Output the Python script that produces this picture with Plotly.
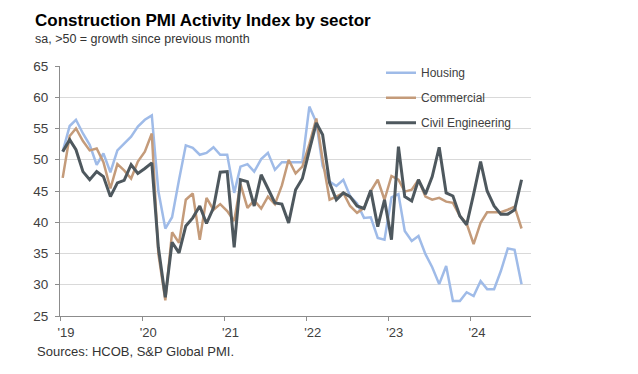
import plotly.graph_objects as go
import pandas as pd

# Monthly data, Jan 2019 - Aug 2024
months = pd.date_range("2019-01-01", periods=68, freq="MS") + pd.Timedelta(days=12)

housing = [
    51.3, 55.4, 56.4, 54.2, 52.4, 49.2, 51.0, 48.0, 51.5, 52.6, 53.7, 55.3,
    56.4, 57.1, 45.0, 39.0, 40.8, 46.8, 52.3, 51.9, 50.8, 51.1, 52.0, 50.8,
    50.8, 44.7, 48.9, 49.3, 48.1, 50.1, 51.1, 48.4, 49.6, 49.6, 49.6, 49.6,
    58.5, 56.0, 49.0, 46.5, 45.8, 46.8, 44.2, 43.0, 40.7, 40.8, 37.5, 37.2,
    44.0, 44.5, 38.6, 37.0, 37.8, 34.9, 32.8, 30.1, 33.0, 27.4, 27.4, 28.8,
    28.2, 30.6, 29.3, 29.3, 32.2, 35.8, 35.6, 30.1,
]
commercial = [
    47.1, 53.8, 55.0, 53.0, 51.5, 51.8, 49.6, 45.4, 49.3, 48.3, 47.0, 49.7,
    51.3, 54.2, 35.0, 27.5, 38.4, 36.7, 43.6, 44.6, 37.2, 43.9, 42.0, 42.9,
    41.8, 40.2, 46.1, 42.3, 43.5, 42.2, 44.1, 42.9, 45.9, 50.0, 47.8, 48.9,
    52.5, 56.6, 50.0, 43.6, 44.1, 44.7, 42.6, 41.5, 42.3, 45.0, 46.8, 43.6,
    47.4, 46.8, 44.9, 45.2, 46.8, 44.1, 43.6, 43.9, 43.3, 43.1, 41.0, 39.8,
    36.5, 39.9, 41.6, 41.6, 41.6, 42.0, 42.5, 39.0,
]
civil = [
    51.3, 53.2, 51.6, 48.1, 46.8, 48.1, 47.3, 44.1, 46.3, 46.7, 49.2, 47.8,
    48.6, 49.5, 36.0, 28.0, 36.8, 35.1, 39.4, 40.7, 42.6, 39.8, 42.3, 48.0,
    48.1, 36.0, 46.8, 46.5, 42.6, 47.6, 45.4, 43.1, 42.9, 39.9, 45.2, 47.0,
    51.5, 55.9, 54.0, 46.3, 43.6, 44.7, 44.1, 42.6, 42.2, 45.1, 39.3, 43.6,
    37.2, 52.1, 44.1, 43.4, 46.8, 44.5, 47.3, 52.0, 44.7, 44.2, 41.0, 39.6,
    44.5, 49.7, 45.0, 42.6, 41.3, 41.3, 42.0, 46.8,
]

year_ticks = ["2019-01-01", "2020-01-01", "2021-01-01", "2022-01-01", "2023-01-01", "2024-01-01"]
year_labels = ["'19", "'20", "'21", "'22", "'23", "'24"]

FONT = "Liberation Sans, Arial, sans-serif"
series = [
    ("Housing", housing, "#9fbbe8", 2.5),
    ("Commercial", commercial, "#c49b7a", 2.5),
    ("Civil Engineering", civil, "#4e585e", 3),
]

# page body adds an 8px offset; margins compensate so the plot sits at x 60-531, y 66-316
OFF = 8
L, T, PW, PH = 60 - OFF, 66 - OFF, 471, 250

fig = go.Figure()
for name, vals, color, w in series:
    fig.add_trace(go.Scatter(
        x=months, y=vals, mode="lines", name=name, legendgroup=name,
        line=dict(color=color, width=w),
    ))

fig.update_layout(
    width=638, height=374,
    margin=dict(l=L, r=638 - L - PW, t=T, b=374 - T - PH),
    paper_bgcolor="white", plot_bgcolor="white",
    font=dict(family=FONT, size=12, color="#404040"),
    showlegend=True,
    legend=dict(
        x=(381 - 60) / PW, y=1.031, xanchor="left", yanchor="top",
        bgcolor="rgba(0,0,0,0)", font=dict(size=12, color="#404040"),
        traceorder="grouped", tracegroupgap=6,
    ),
    xaxis=dict(
        range=["2019-01-01", "2024-09-24"],
        tickvals=year_ticks, ticktext=year_labels,
        showgrid=False, showline=True, linecolor="#8c8c8c", linewidth=1,
        ticks="outside", ticklen=4, tickcolor="#8c8c8c",
        tickfont=dict(size=13, color="#404040"), ticklabelshift=6,
        zeroline=False,
    ),
    yaxis=dict(
        range=[25, 65], dtick=5, tick0=25,
        showgrid=True, gridcolor="#d9d9d9", gridwidth=1,
        showline=True, linecolor="#8c8c8c", linewidth=1,
        ticks="outside", ticklen=4, tickcolor="#8c8c8c",
        tickfont=dict(size=13.5, color="#404040"), ticklabelstandoff=4,
        zeroline=False,
    ),
    annotations=[
        dict(text="<b>Construction PMI Activity Index by sector</b>", xref="paper", yref="paper",
             x=(33 - 60) / PW, y=1 + (66 - 20.5) / PH, xanchor="left", yanchor="middle",
             showarrow=False, font=dict(size=17, color="#000000", family=FONT)),
        dict(text="sa, >50 = growth since previous month", xref="paper", yref="paper",
             x=(33 - 60) / PW, y=1 + (66 - 39.5) / PH, xanchor="left", yanchor="middle",
             showarrow=False, font=dict(size=12.5, color="#333333", family=FONT)),
        dict(text="Sources: HCOB, S&P Global PMI.", xref="paper", yref="paper",
             x=(35 - 60) / PW, y=(316 - 351) / PH, xanchor="left", yanchor="middle",
             showarrow=False, font=dict(size=13, color="#333333", family=FONT)),
    ],
)

fig.write_html("out.html")
